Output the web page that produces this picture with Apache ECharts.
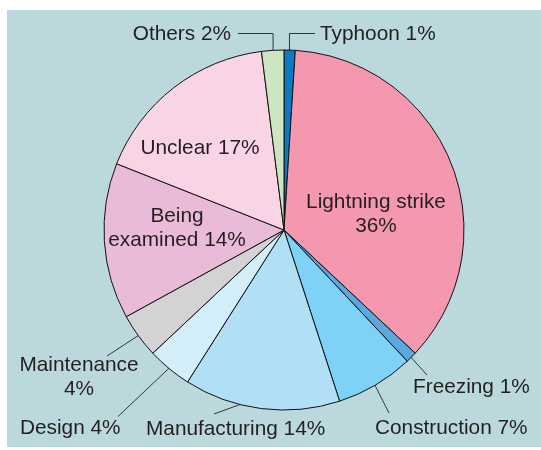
<!DOCTYPE html>
<html>
<head>
<meta charset="utf-8">
<script src="https://cdn.jsdelivr.net/npm/echarts@6/dist/echarts.min.js"></script>
<style>
html,body{margin:0;padding:0;background:#ffffff;}
#panel{position:absolute;left:7px;top:10px;width:534px;height:437px;background:#bbd9dc;}
#chart{position:absolute;left:0;top:0;width:541px;height:450px;}
</style>
</head>
<body>
<div id="panel"></div>
<div id="chart"></div>
<script>
// ---- data ----
var categories = ['Typhoon', 'Lightning strike', 'Freezing', 'Construction', 'Manufacturing',
                  'Design', 'Maintenance', 'Being examined', 'Unclear', 'Others'];
var values = [1, 36, 1, 7, 14, 4, 4, 14, 17, 2];
var colors = ['#0a7bc3', '#f498b0', '#5aa9dd', '#7dd2f5', '#b1e0f6',
              '#d3edf9', '#d3d3d3', '#eabbd8', '#f9d4e5', '#cde6c1'];
// label text content (with line breaks)
var labelTexts = ['Typhoon 1%', 'Lightning strike\n36%', 'Freezing 1%', 'Construction 7%',
                  'Manufacturing 14%', 'Design 4%', 'Maintenance\n4%', 'Being\nexamined 14%',
                  'Unclear 17%', 'Others 2%'];
var insideLabels = [false, true, false, false, false, false, false, true, true, false];

// ---- layout (positions/styles only) ----
var CX = 284, CY = 230, R = 180;
var spots = [
  {x: 320, y: 34, align: 'left', end: [315, 33.5], elbow: true},
  {x: 376, y: 214, align: 'center'},
  {x: 413, y: 387, align: 'left', end: [427, 375]},
  {x: 375, y: 428, align: 'left', end: [389, 413]},
  {x: 146, y: 429, align: 'left', end: [214, 414]},
  {x: 20, y: 428, align: 'left', end: [118, 416.5]},
  {x: 79, y: 377, align: 'center', end: [107, 356]},
  {x: 177, y: 228, align: 'center'},
  {x: 200, y: 148, align: 'center'},
  {x: 231, y: 34, align: 'right', end: [238, 33.5], elbow: true}
];
var anchorFrac = [0.965, 0, 0.97, 0.94, 0.93, 0.975, 0.97, 0, 0, 0.965];

var total = values.reduce(function (a, b) { return a + b; }, 0);
function midAngle(i) {
  var before = 0;
  for (var k = 0; k < i; k++) before += values[k];
  return (before + values[i] / 2) / total * 2 * Math.PI;
}

var data = categories.map(function (c, i) {
  return {
    name: c,
    value: values[i],
    itemStyle: {color: colors[i]},
    label: {position: insideLabels[i] ? 'inside' : 'outside'},
    labelLine: {show: !insideLabels[i]}
  };
});

var chart = echarts.init(document.getElementById('chart'), null, {renderer: 'canvas'});
chart.setOption({
  backgroundColor: 'transparent',
  animation: false,
  series: [{
    type: 'pie',
    center: [CX, CY],
    radius: R,
    startAngle: 90,
    clockwise: true,
    avoidLabelOverlap: false,
    data: data,
    itemStyle: {borderColor: '#111111', borderWidth: 1},
    emphasis: {disabled: true},
    label: {
      show: true,
      formatter: function (p) { return labelTexts[p.dataIndex]; },
      fontFamily: '"Liberation Sans", Arial, sans-serif',
      fontSize: 20.8,
      lineHeight: 24,
      color: '#231f20',
      align: 'center'
    },
    labelLine: {
      show: true,
      lineStyle: {color: '#333333', width: 1}
    },
    labelLayout: function (p) {
      var i = p.dataIndex;
      var s = spots[i];
      var res = {x: s.x, y: s.y, align: s.align, verticalAlign: 'middle'};
      if (s.end) {
        var a = midAngle(i);
        var r = R * anchorFrac[i];
        var ax = CX + r * Math.sin(a), ay = CY - r * Math.cos(a);
        var mid;
        if (s.elbow) mid = [ax, s.end[1]];
        else mid = [(ax + s.end[0]) / 2, (ay + s.end[1]) / 2];
        res.labelLinePoints = [[ax, ay], mid, s.end];
      }
      return res;
    }
  }]
});
</script>
</body>
</html>
